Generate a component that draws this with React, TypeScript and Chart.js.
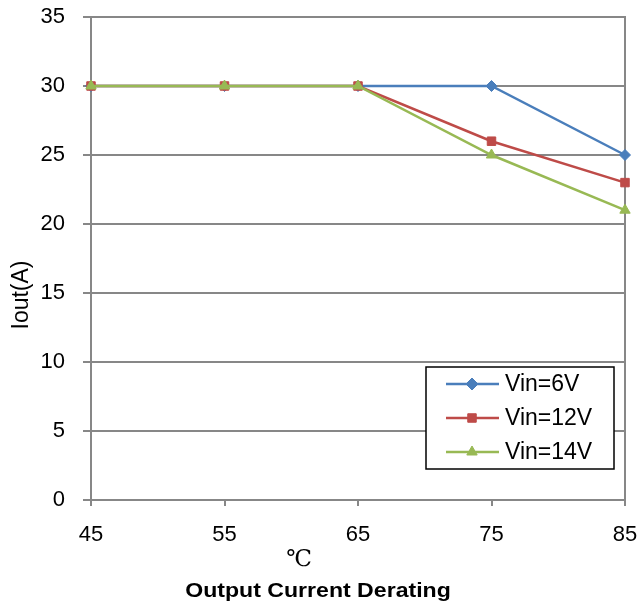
import React, { useEffect, useRef } from 'react';
import { Chart, registerables } from 'chart.js';

Chart.register(...registerables);

// ---- data ----
const temperatures = [45, 55, 65, 75, 85];
const vin6 = [30, 30, 30, 30, 25];
const vin12 = [30, 30, 30, 26, 23];
const vin14 = [30, 30, 30, 25, 21];
const seriesLabels = ['Vin=6V', 'Vin=12V', 'Vin=14V'];
const seriesColors = ['#4A7EBB', '#BE4B48', '#98B954'];
const seriesPointStyles = ['rectRot', 'rect', 'triangle'];
const yAxisTitle = 'Iout(A)';
const xAxisUnit = '℃';
const chartTitle = 'Output Current Derating';

const GRID = '#878787';
const FONT = "'Liberation Sans', Arial, sans-serif";

function drawMarker(ctx: CanvasRenderingContext2D, style: string, x: number, y: number, r: number, color: string) {
  ctx.save();
  ctx.fillStyle = color;
  ctx.strokeStyle = color;
  ctx.lineWidth = 1;
  ctx.beginPath();
  if (style === 'rectRot') {
    ctx.moveTo(x, y - r);
    ctx.lineTo(x + r, y);
    ctx.lineTo(x, y + r);
    ctx.lineTo(x - r, y);
    ctx.closePath();
  } else if (style === 'rect') {
    const s = r * Math.SQRT1_2;
    ctx.rect(x - s, y - s, 2 * s, 2 * s);
  } else {
    for (let i = 0; i < 3; i++) {
      const a = (i * 2 * Math.PI) / 3;
      const px = x + Math.sin(a) * r;
      const py = y - Math.cos(a) * r;
      if (i === 0) ctx.moveTo(px, py);
      else ctx.lineTo(px, py);
    }
    ctx.closePath();
  }
  ctx.fill();
  ctx.stroke();
  ctx.restore();
}

const decorPlugin = {
  id: 'decor',
  beforeDatasetsDraw(chart: any) {
    const { ctx, chartArea } = chart;
    ctx.save();
    ctx.strokeStyle = GRID;
    ctx.lineWidth = 2;
    ctx.beginPath();
    ctx.moveTo(chartArea.right, chartArea.top - 1);
    ctx.lineTo(chartArea.right, chartArea.bottom + 1);
    ctx.stroke();
    ctx.restore();
  },
  afterDraw(chart: any) {
    const { ctx, chartArea } = chart;
    ctx.save();

    // legend box
    const boxL = chartArea.right - 199;
    const boxT = chartArea.bottom - 133;
    const boxW = 188;
    const boxH = 102;
    ctx.fillStyle = '#ffffff';
    ctx.fillRect(boxL, boxT, boxW, boxH);
    ctx.strokeStyle = '#000000';
    ctx.lineWidth = 1.5;
    ctx.strokeRect(boxL, boxT, boxW, boxH);
    ctx.font = `23px ${FONT}`;
    ctx.textBaseline = 'middle';
    ctx.textAlign = 'left';
    chart.data.datasets.forEach((ds: any, i: number) => {
      const y = boxT + 17 + i * 34;
      ctx.strokeStyle = ds.borderColor;
      ctx.lineWidth = 2.5;
      ctx.beginPath();
      ctx.moveTo(boxL + 20, y);
      ctx.lineTo(boxL + 73, y);
      ctx.stroke();
      drawMarker(ctx, ds.pointStyle, boxL + 46, y, 6, ds.borderColor);
      ctx.fillStyle = '#000000';
      ctx.fillText(ds.label, boxL + 79, y + 1);
    });

    // y axis title
    ctx.save();
    ctx.translate(22, 295);
    ctx.rotate(-Math.PI / 2);
    ctx.font = `23px ${FONT}`;
    ctx.fillStyle = '#000';
    ctx.textAlign = 'center';
    ctx.textBaseline = 'middle';
    ctx.fillText(yAxisTitle, 0, 0);
    ctx.restore();

    // x unit
    ctx.font = "23px 'DejaVu Serif', 'Liberation Serif', serif";
    ctx.fillStyle = '#000';
    ctx.textAlign = 'center';
    ctx.textBaseline = 'middle';
    ctx.fillText(xAxisUnit, 299, 560);

    // bottom title
    ctx.save();
    ctx.translate(318, 591);
    ctx.scale(1.1, 1);
    ctx.font = `bold 21px ${FONT}`;
    ctx.fillText(chartTitle, 0, 0);
    ctx.restore();

    ctx.restore();
  },
};

export default function App() {
  const canvasRef = useRef<HTMLCanvasElement | null>(null);

  useEffect(() => {
    const canvas = canvasRef.current;
    if (!canvas) return;
    const series = [vin6, vin12, vin14];
    const chart = new Chart(canvas, {
      type: 'line',
      data: {
        datasets: series.map((vals, i) => ({
          label: seriesLabels[i],
          data: temperatures.map((t, j) => ({ x: t, y: vals[j] })),
          borderColor: seriesColors[i],
          backgroundColor: seriesColors[i],
          borderWidth: 2.5,
          pointStyle: seriesPointStyles[i] as any,
          pointRadius: i === 0 ? 5.5 : 6,
          pointBorderWidth: 1,
          pointBackgroundColor: seriesColors[i],
          pointBorderColor: seriesColors[i],
          tension: 0,
          clip: false as any,
          order: 3 - i,
        })),
      },
      options: {
        responsive: false,
        animation: false,
        layout: { padding: { left: 0, top: 17, right: 16, bottom: 0 } },
        plugins: {
          legend: { display: false },
          tooltip: { enabled: false },
          title: { display: false },
        },
        scales: {
          x: {
            type: 'linear',
            min: 45,
            max: 85,
            ticks: {
              stepSize: 10,
              color: '#000',
              font: { family: FONT, size: 22 },
              padding: 16,
            },
            grid: {
              drawOnChartArea: false,
              drawTicks: true,
              tickLength: 6,
              color: GRID,
              lineWidth: 2,
            },
            border: { color: GRID, width: 2 },
            afterFit: (scale: any) => {
              scale.height = 109;
              scale.paddingLeft = 0;
              scale.paddingRight = 0;
            },
          },
          y: {
            type: 'linear',
            min: 0,
            max: 35,
            ticks: {
              stepSize: 5,
              color: '#000',
              font: { family: FONT, size: 22 },
              padding: 18,
            },
            grid: {
              color: GRID,
              lineWidth: 2,
              tickLength: 8,
            },
            border: { color: GRID, width: 2 },
            afterFit: (scale: any) => {
              scale.width = 91;
              scale.paddingTop = 0;
              scale.paddingBottom = 0;
            },
          },
        },
      },
      plugins: [decorPlugin],
    });
    return () => chart.destroy();
  }, []);

  return (
    <div style={{ position: 'fixed', left: 0, top: 0, width: 641, height: 609, background: '#fff' }}>
      <canvas ref={canvasRef} width={641} height={609} />
    </div>
  );
}
